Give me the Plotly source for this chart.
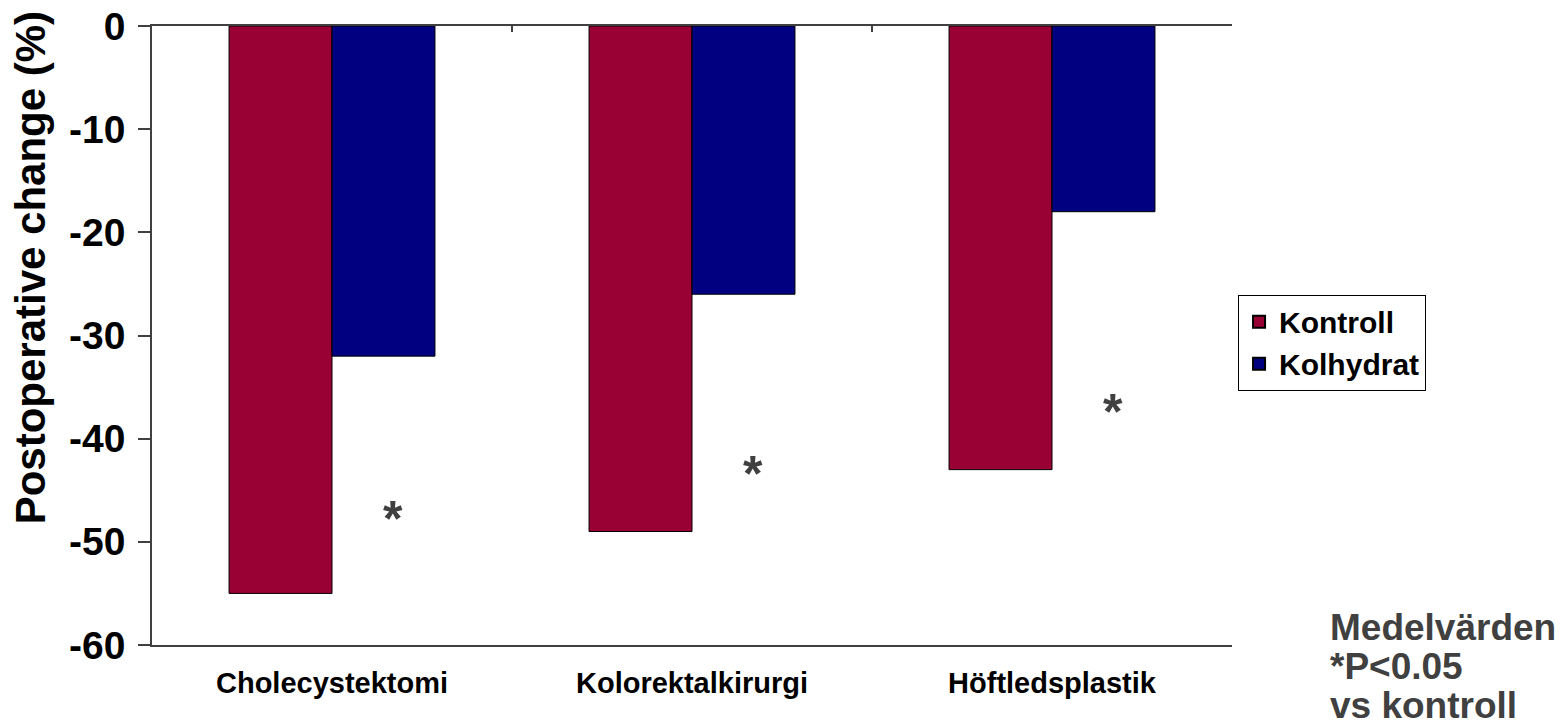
import plotly.graph_objects as go

# Surgery types and mean postoperative change (%) per group
categories = ["Cholecystektomi", "Kolorektalkirurgi", "Höftledsplastik"]
kontroll = [-55, -49, -43]
kolhydrat = [-32, -26, -18]

# Y-axis ticks and their labels (plain hyphen minus)
y_ticks = [0, -10, -20, -30, -40, -50, -60]
y_tick_labels = ["0", "-10", "-20", "-30", "-40", "-50", "-60"]

# Significance markers (*P<0.05 vs kontroll), drawn next to each Kolhydrat bar
star_y = [-47.1, -42.7, -36.7]

FONT = "Liberation Sans, Arial, sans-serif"
AXIS_GREY = "#404040"
TEXT_GREY = "#404040"

fig = go.Figure()

fig.add_trace(go.Bar(
    name="Kontroll", x=categories, y=kontroll,
    marker=dict(color="#990033", line=dict(color="#000000", width=1)),
))
fig.add_trace(go.Bar(
    name="Kolhydrat", x=categories, y=kolhydrat,
    marker=dict(color="#000080", line=dict(color="#000000", width=1)),
))

# Invisible helper trace so the top (zero) axis with its category-boundary ticks is drawn
fig.add_trace(go.Scatter(
    x=[0], y=[0], xaxis="x2", mode="markers", marker=dict(opacity=0),
    showlegend=False, hoverinfo="skip",
))

annotations = []
for cat, sy in zip(categories, star_y):
    annotations.append(dict(
        x=cat, y=sy, xref="x", yref="y", text="<b>*</b>", showarrow=False,
        xshift=61, yshift=-7,
        font=dict(family=FONT, size=50, color=TEXT_GREY),
    ))

# Rotated y-axis title
annotations.append(dict(
    x=-0.113, y=0.61, xref="paper", yref="paper", xanchor="center",
    yanchor="middle", textangle=-90, showarrow=False,
    text="<b>Postoperative change (%)</b>",
    font=dict(family=FONT, size=42, color="#000000"),
))

note_lines = ["<b>Medelvärden</b>", "<b>*P<0.05</b>", "<b>vs kontroll</b>"]
for i, line in enumerate(note_lines):
    annotations.append(dict(
        x=1.0885, y=0.0275 - i * 0.063, xref="paper", yref="paper",
        xanchor="left", yanchor="middle", text=line, showarrow=False,
        font=dict(family=FONT, size=37, color=TEXT_GREY),
    ))

fig.update_layout(
    width=1562, height=723,
    margin=dict(l=152, r=330, t=26, b=78, autoexpand=False),
    paper_bgcolor="white", plot_bgcolor="white",
    barmode="group", bargap=0.428, bargroupgap=0,
    font=dict(family=FONT, color="#000000"),
    showlegend=True,
    legend=dict(
        x=1.0056, y=0.566, xanchor="left", yanchor="top",
        bordercolor="#000000", borderwidth=1, bgcolor="white",
        font=dict(family=FONT, size=30, color="#000000", weight="bold"),
        itemsizing="constant", tracegroupgap=0,
        entrywidth=190, entrywidthmode="pixels",
    ),
    xaxis=dict(
        showline=True, linecolor=AXIS_GREY, linewidth=2,
        ticks="", showgrid=False, automargin=False,
        ticklabelstandoff=11,
        tickfont=dict(family=FONT, size=29, color="#000000", weight="bold"),
        fixedrange=True,
    ),
    xaxis2=dict(
        overlaying="x", side="top", anchor="y", range=[-0.5, 2.5],
        showline=True, linecolor=AXIS_GREY, linewidth=2, automargin=False,
        tickvals=[0.5, 1.5, 2.5], ticks="inside", ticklen=6, tickwidth=2,
        tickcolor=AXIS_GREY, showticklabels=False, showgrid=False,
        zeroline=False,
    ),
    yaxis=dict(
        range=[-60, 0], tickvals=y_ticks, ticktext=y_tick_labels,
        showline=True, linecolor=AXIS_GREY, linewidth=1.5, automargin=False,
        ticks="outside", ticklen=12, tickwidth=1.5, tickcolor=AXIS_GREY,
        ticklabelstandoff=5,
        showgrid=False, zeroline=False,
        tickfont=dict(family=FONT, size=39, color="#000000", weight="bold"),
    ),
    annotations=annotations,
)

fig.write_html("out.html")
